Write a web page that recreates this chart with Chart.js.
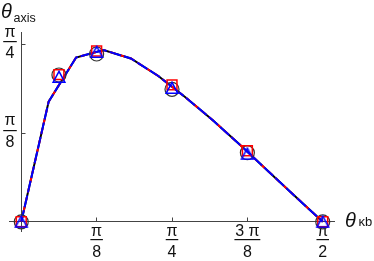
<!DOCTYPE html>
<html><head><meta charset="utf-8">
<style>html,body{margin:0;padding:0;background:#fff}canvas{display:block}</style>
<script src="https://cdn.jsdelivr.net/npm/chart.js@4/dist/chart.umd.min.js"></script>
</head><body>
<canvas id="c" width="374" height="261"></canvas>
<script>
// angles in degrees (π/8 = 22.5°)
const curveX     = [0, 8.18, 16.36, 24.55, 32.73, 40.91, 49.09, 57.27, 65.45, 73.64, 81.82, 90];
const curveBlack = [0, 30.5, 41.7, 43.6, 41.45, 37.0, 31.55, 25.7, 19.4, 12.9, 6.4, 0];
const curveRed   = [0, 30.5, 41.7, 43.6, 41.45, 37.0, 31.55, 25.7, 19.4, 12.9, 6.4, 0];
const curveBlue  = [0, 30.5, 41.7, 43.6, 41.45, 37.0, 31.55, 25.7, 19.4, 12.9, 6.4, 0];
const markerX    = [0, 11.25, 22.5, 45, 67.5, 90];
const circleY    = [0, 37.26, 42.59, 33.63, 17.54, 0];
const squareY    = [0, 37.34, 43.35, 34.75, 18.02, 0];
const triangleY  = [0, 36.75, 43.10, 33.96, 17.26, 0];
const xTicks     = [22.5, 45, 67.5, 90];
const xTickNum   = ['π', 'π', '3 π', 'π'];
const xTickDen   = ['8', '4', '8', '2'];
const yTicks     = [22.5, 45];
const yTickNum   = ['π', 'π'];
const yTickDen   = ['8', '4'];
const xTitle     = ['θ', 'κb'];
const yTitle     = ['θ', 'axis'];

const pts = (xs, ys) => xs.map((v, i) => ({x: v, y: ys[i]}));

function triCanvas() {
  const c = document.createElement('canvas'); c.width = 16; c.height = 16;
  const g = c.getContext('2d');
  g.strokeStyle = '#0000ff'; g.lineWidth = 1.6; g.lineJoin = 'miter';
  g.beginPath(); g.moveTo(8, 2.4); g.lineTo(13.8, 13.2); g.lineTo(2.2, 13.2); g.closePath(); g.stroke();
  return c;
}

const FONT = '"Liberation Sans", Arial, Helvetica, sans-serif';
const axesPlugin = {
  id: 'axes',
  beforeDatasetsDraw(chart) {
    const {ctx, chartArea: a, scales: {x, y}} = chart;
    const x0 = x.getPixelForValue(0), y0 = y.getPixelForValue(0);
    const xr = Math.floor(x0) + 0.5, yr = Math.floor(y0) + 0.5;
    ctx.save();
    ctx.strokeStyle = '#444'; ctx.lineWidth = 1;
    ctx.beginPath();
    ctx.moveTo(a.left, yr); ctx.lineTo(a.right, yr);
    ctx.moveTo(xr, a.top); ctx.lineTo(xr, a.bottom);
    xTicks.forEach(v => { const p = Math.floor(x.getPixelForValue(v)) + 0.5; ctx.moveTo(p, yr); ctx.lineTo(p, yr - 4); });
    yTicks.forEach(v => { const p = Math.floor(y.getPixelForValue(v)) + 0.5; ctx.moveTo(xr, p); ctx.lineTo(xr + 4, p); });
    ctx.stroke();

    ctx.fillStyle = '#111';
    ctx.font = '16px ' + FONT; ctx.textAlign = 'center'; ctx.textBaseline = 'alphabetic';
    xTicks.forEach((v, i) => {
      const p = x.getPixelForValue(v);
      const w = Math.max(ctx.measureText(xTickNum[i]).width, ctx.measureText(xTickDen[i]).width) + 1.5;
      ctx.fillText(xTickNum[i], p, y0 + 14.7);
      ctx.fillRect(p - w / 2, Math.round(y0 + 17.5), w, 1.2);
      ctx.fillText(xTickDen[i], p, y0 + 35);
    });
    yTicks.forEach((v, i) => {
      const p = y.getPixelForValue(v);
      const cx = 10;
      const w = Math.max(ctx.measureText(yTickNum[i]).width, ctx.measureText(yTickDen[i]).width) + 2.5;
      ctx.fillText(yTickNum[i], cx, p - 7.8);
      ctx.fillRect(cx - w / 2, Math.round(p - 3.5), w, 1.2);
      ctx.fillText(yTickDen[i], cx, p + 14);
    });

    ctx.textAlign = 'left';
    ctx.font = 'italic 20px ' + FONT;
    ctx.fillText(yTitle[0], 1, 18.3);
    ctx.fillText(xTitle[0], 345, 226.5);
    ctx.font = '12.5px ' + FONT;
    ctx.fillText(yTitle[1], 13.5, 21.5);
    ctx.font = '13px ' + FONT;
    ctx.fillText(xTitle[1], 358.5, 226);
    ctx.restore();
  }
};

const lineDs = (data, color, dash) => ({
  data, showLine: true, borderColor: color, borderWidth: 2, borderDash: dash,
  pointRadius: 0, pointHoverRadius: 0, tension: 0, fill: false
});

new Chart(document.getElementById('c'), {
  type: 'scatter',
  data: {
    datasets: [
      {data: pts(markerX, triangleY), pointStyle: triCanvas(), pointRadius: 8, showLine: false},
      {data: pts(markerX, squareY), pointStyle: 'rect', pointRadius: 7, pointBorderColor: '#ff0000',
       pointBackgroundColor: 'rgba(0,0,0,0)', pointBorderWidth: 1.5, showLine: false},
      {data: pts(markerX, circleY), pointStyle: 'circle', pointRadius: 7, pointBorderColor: '#333',
       pointBackgroundColor: 'rgba(0,0,0,0)', pointBorderWidth: 1.2, showLine: false},
      lineDs(pts(curveX, curveBlue), '#0000ff', [12, 3]),
      lineDs(pts(curveX, curveRed), '#ff0000', [6, 4]),
      lineDs(pts(curveX, curveBlack), '#000000', [])
    ]
  },
  options: {
    responsive: false, animation: false, devicePixelRatio: 1,
    layout: {padding: {left: 8, right: 39, top: 32, bottom: 29}},
    plugins: {legend: {display: false}, tooltip: {enabled: false}},
    events: [],
    scales: {
      x: {type: 'linear', min: -3.66, max: 93.66, display: false},
      y: {type: 'linear', min: -2.59, max: 48.17, display: false}
    }
  },
  plugins: [axesPlugin]
});
</script>
</body></html>
